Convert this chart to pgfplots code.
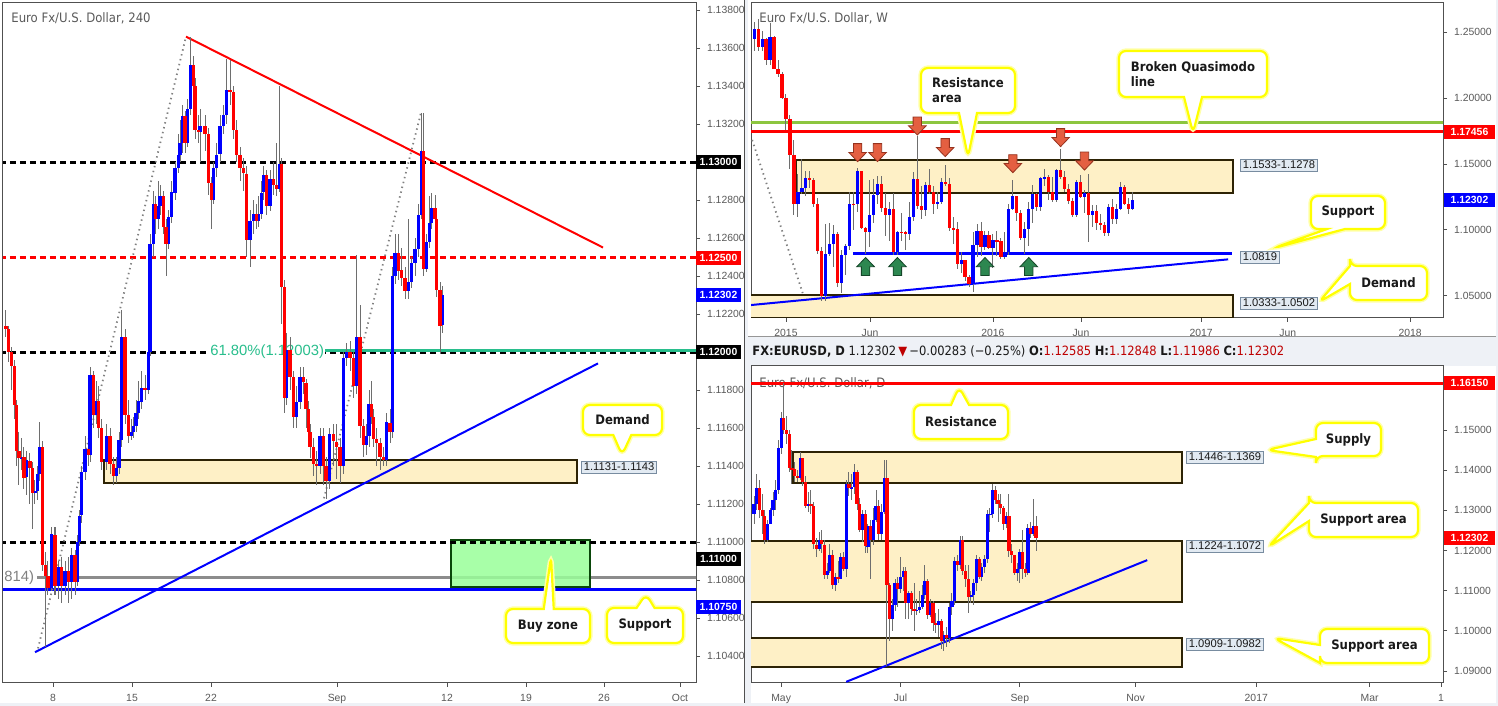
\documentclass[border=0pt]{standalone}
\usepackage{pgfplots}
\pgfplotsset{compat=1.18}
\usepackage{pgfplotstable}
\usetikzlibrary{shapes.callouts}
\usepackage{fontspec}
\setmainfont{Liberation Sans}
\newfontfamily\cond{DejaVu Sans Condensed}

\definecolor{upc}{RGB}{0,0,255}
\definecolor{dnc}{RGB}{255,0,0}
\definecolor{wickc}{RGB}{110,110,110}
\definecolor{axc}{RGB}{80,80,80}
\definecolor{lblc}{RGB}{90,90,90}
\definecolor{bgc}{RGB}{238,241,246}
\definecolor{zonef}{RGB}{254,240,198}
\definecolor{zoned}{RGB}{45,35,5}
\definecolor{tagf}{RGB}{226,234,242}
\definecolor{tagd}{RGB}{120,140,160}
\definecolor{buyf}{RGB}{153,255,153}
\definecolor{buyd}{RGB}{10,70,10}
\definecolor{fibc}{RGB}{40,190,140}
\definecolor{qmgreen}{RGB}{140,198,63}
\definecolor{arrr}{RGB}{228,95,65}
\definecolor{arrrd}{RGB}{150,50,30}
\definecolor{arrg}{RGB}{45,135,80}
\definecolor{arrgd}{RGB}{20,70,40}
\definecolor{callc}{RGB}{255,255,0}
\definecolor{glowc}{RGB}{255,255,170}
\definecolor{valred}{RGB}{190,0,0}
\definecolor{txt}{RGB}{25,25,25}

\newcommand\ticks{\fontsize{5.2}{6}\selectfont}
\newcommand\cfont{\cond\bfseries\fontsize{6.5}{7.6}\selectfont}

% arrow marks, tip at the data point
\pgfdeclareplotmark{dnarrow}{%
  \pgfpathmoveto{\pgfpoint{0pt}{0pt}}%
  \pgfpathlineto{\pgfpoint{4.4pt}{4.6pt}}%
  \pgfpathlineto{\pgfpoint{2.1pt}{4.6pt}}%
  \pgfpathlineto{\pgfpoint{2.1pt}{9pt}}%
  \pgfpathlineto{\pgfpoint{-2.1pt}{9pt}}%
  \pgfpathlineto{\pgfpoint{-2.1pt}{4.6pt}}%
  \pgfpathlineto{\pgfpoint{-4.4pt}{4.6pt}}%
  \pgfpathclose\pgfusepathqfillstroke}
\pgfdeclareplotmark{uparrow}{%
  \pgfpathmoveto{\pgfpoint{0pt}{0pt}}%
  \pgfpathlineto{\pgfpoint{4.4pt}{-4.6pt}}%
  \pgfpathlineto{\pgfpoint{2.1pt}{-4.6pt}}%
  \pgfpathlineto{\pgfpoint{2.1pt}{-9pt}}%
  \pgfpathlineto{\pgfpoint{-2.1pt}{-9pt}}%
  \pgfpathlineto{\pgfpoint{-2.1pt}{-4.6pt}}%
  \pgfpathlineto{\pgfpoint{-4.4pt}{-4.6pt}}%
  \pgfpathclose\pgfusepathqfillstroke}

\pgfplotsset{
  base/.style={anchor=south west, scale only axis, clip=true,
    axis line style={draw=axc, line width=0.5pt},
    tick align=outside, xtick pos=bottom, ytick pos=right, yticklabel pos=right,
    major tick length=2pt, tick style={draw=axc, line width=0.4pt},
    ticklabel style={font=\ticks, text=lblc},
    scaled y ticks=false, /pgf/number format/assume math mode=true,
    yticklabel style={/pgf/number format/fixed, /pgf/number format/fixed zerofill,
      /pgf/number format/precision=5}},
  wick/.style={draw=none, mark=none, forget plot, error bars/.cd, y dir=both, y explicit,
    error mark=none, error bar style={draw=wickc, line width=0.5pt}},
  body/.style n args={3}{draw=none, mark=none, forget plot,
    restrict expr to domain={\thisrow{c}-\thisrow{o}}{#1},
    error bars/.cd, y dir=both, y explicit, error mark=none,
    error bar style={draw=#2, line width=#3}},
}
\tikzset{
  zone/.style={fill=zonef, draw=zoned, line width=1pt},
  hdash/.style={line width=1.5pt, dash pattern=on 3pt off 2pt},
  call/.style={rectangle callout, fill=white, draw=callc, line width=1.1pt,
    rounded corners=3.5pt, preaction={draw=glowc, line width=2.6pt},
    font=\cfont, text=txt, inner sep=0pt, callout pointer width=9pt, align=left},
  pbox/.style={font=\ticks\bfseries, text=white, minimum height=7pt, inner sep=0pt},
  tag/.style={fill=tagf, draw=tagd, line width=0.4pt, font=\fontsize{5.6}{6}\selectfont,
    text=txt, inner xsep=1.2pt, inner ysep=1pt},
}

% 4H candles: x in pixels of the panel, open high low close
\pgfplotstableread{
x o h l c
6 1.1214 1.1222 1.1208 1.1212
8.3 1.1212 1.1214 1.1195 1.1200
11.7 1.1200 1.1203 1.1180 1.1193
14.3 1.1193 1.1196 1.1165 1.1172
16.7 1.1172 1.1175 1.1140 1.1148
19 1.1148 1.1158 1.1130 1.1144
21.7 1.1144 1.1155 1.1138 1.1145
24 1.1145 1.1150 1.1128 1.1134
26.7 1.1134 1.1148 1.1125 1.1143
30 1.1143 1.1147 1.1120 1.1139
32.3 1.1139 1.1142 1.1107 1.1126
35 1.1126 1.1133 1.1120 1.1127
37.7 1.1127 1.1140 1.1122 1.1136
40 1.1136 1.1163 1.1132 1.1150
42.7 1.1150 1.1153 1.1085 1.1088
45.3 1.1088 1.1095 1.1045 1.1082
48 1.1082 1.1090 1.1072 1.1076
51.7 1.1076 1.1108 1.1074 1.1104
55 1.1104 1.1108 1.1072 1.1077
58.3 1.1077 1.1090 1.1070 1.1087
61.7 1.1087 1.1092 1.1068 1.1077
65 1.1077 1.1090 1.1072 1.1085
68.3 1.1085 1.1092 1.1068 1.1079
71.7 1.1079 1.1097 1.1070 1.1093
75 1.1093 1.1096 1.1072 1.1079
77.3 1.1079 1.1104 1.1077 1.1100
79.3 1.1100 1.1117 1.1098 1.1114
81.7 1.1114 1.1140 1.1110 1.1137
85 1.1137 1.1156 1.1133 1.1149
88.3 1.1149 1.1152 1.1140 1.1146
90 1.1146 1.1192 1.1142 1.1188
93.3 1.1188 1.1190 1.1160 1.1167
96.7 1.1167 1.1185 1.1162 1.1174
98.3 1.1174 1.1182 1.1155 1.1160
101.7 1.1160 1.1165 1.1138 1.1142
106.7 1.1142 1.1162 1.1138 1.1156
110 1.1156 1.1160 1.1136 1.1141
113.3 1.1141 1.1145 1.1130 1.1135
116.7 1.1135 1.1145 1.1131 1.1139
119 1.1139 1.1158 1.1136 1.1154
121.7 1.1154 1.1222 1.1150 1.1208
125 1.1208 1.1212 1.1162 1.1167
128.3 1.1167 1.1175 1.1152 1.1156
131.7 1.1156 1.1165 1.1154 1.1158
133.3 1.1158 1.1166 1.1155 1.1161
136 1.1161 1.1175 1.1158 1.1168
138.3 1.1168 1.1185 1.1165 1.1174
141.7 1.1174 1.1190 1.1170 1.1181
145 1.1181 1.1188 1.1175 1.1180
148.3 1.1180 1.1204 1.1178 1.1200
150 1.1200 1.1262 1.1198 1.1257
153.3 1.1257 1.1285 1.1250 1.1278
155.7 1.1278 1.1282 1.1262 1.1270
158.3 1.1270 1.1290 1.1265 1.1277
160 1.1277 1.1288 1.1272 1.1282
163.3 1.1282 1.1285 1.1262 1.1266
166 1.1266 1.1270 1.1240 1.1257
168.3 1.1257 1.1275 1.1254 1.1271
171.7 1.1271 1.1290 1.1268 1.1284
175 1.1284 1.1300 1.1280 1.1297
178.3 1.1297 1.1315 1.1294 1.1304
180 1.1304 1.1322 1.1300 1.1310
182.7 1.1310 1.1330 1.1305 1.1324
185 1.1324 1.1327 1.1305 1.1310
187.3 1.1310 1.1333 1.1308 1.1328
190.7 1.1328 1.1366 1.1325 1.1351
193.3 1.1351 1.1356 1.1330 1.1340
195 1.1340 1.1344 1.1312 1.1317
198.3 1.1317 1.1325 1.1310 1.1316
200 1.1316 1.1328 1.1300 1.1319
205 1.1319 1.1325 1.1306 1.1315
208.3 1.1315 1.1318 1.1283 1.1289
211.7 1.1289 1.1292 1.1265 1.1280
213.3 1.1280 1.1300 1.1278 1.1297
216.7 1.1297 1.1310 1.1292 1.1304
220 1.1304 1.1325 1.1300 1.1319
223.3 1.1319 1.1330 1.1315 1.1325
226.7 1.1325 1.1354 1.1320 1.1338
230 1.1338 1.1354 1.1330 1.1337
233.3 1.1337 1.1340 1.1312 1.1317
236.7 1.1317 1.1322 1.1300 1.1304
240 1.1304 1.1308 1.1290 1.1297
243.3 1.1297 1.1302 1.1285 1.1294
246.7 1.1294 1.1298 1.1250 1.1259
250 1.1259 1.1275 1.1245 1.1269
253.3 1.1269 1.1280 1.1262 1.1273
256.7 1.1273 1.1278 1.1265 1.1269
258.3 1.1269 1.1282 1.1266 1.1273
261.7 1.1273 1.1290 1.1270 1.1284
263.3 1.1284 1.1298 1.1280 1.1293
266.7 1.1293 1.1296 1.1272 1.1277
270 1.1277 1.1296 1.1274 1.1291
273.3 1.1291 1.1300 1.1283 1.1288
276.7 1.1288 1.1310 1.1282 1.1286
279.3 1.1286 1.1340 1.1284 1.1299
281.7 1.1299 1.1302 1.1215 1.1234
284.3 1.1234 1.1238 1.1168 1.1176
286.7 1.1176 1.1210 1.1172 1.1201
290 1.1201 1.1208 1.1180 1.1187
293.3 1.1187 1.1190 1.1160 1.1166
296.7 1.1166 1.1182 1.1160 1.1174
300 1.1174 1.1192 1.1170 1.1187
303.3 1.1187 1.1192 1.1178 1.1184
306 1.1184 1.1186 1.1160 1.1170
308.3 1.1170 1.1174 1.1150 1.1158
310 1.1158 1.1162 1.1144 1.1150
313.3 1.1150 1.1155 1.1135 1.1141
316.7 1.1141 1.1148 1.1130 1.1140
320 1.1140 1.1160 1.1136 1.1156
323.3 1.1156 1.1160 1.1130 1.1140
326 1.1140 1.1145 1.1123 1.1132
329.3 1.1132 1.1160 1.1128 1.1157
333.3 1.1157 1.1162 1.1140 1.1153
336.7 1.1153 1.1162 1.1133 1.1150
340 1.1150 1.1155 1.1131 1.1140
343.3 1.1140 1.1200 1.1136 1.1197
346.7 1.1197 1.1205 1.1193 1.1200
350 1.1200 1.1206 1.1190 1.1197
353.3 1.1197 1.1200 1.1176 1.1182
356.7 1.1182 1.1251 1.1178 1.1208
360 1.1208 1.1225 1.1155 1.1161
363.3 1.1161 1.1165 1.1145 1.1151
366.7 1.1151 1.1162 1.1146 1.1156
369 1.1156 1.1180 1.1150 1.1173
371.7 1.1173 1.1185 1.1162 1.1166
373.3 1.1166 1.1170 1.1150 1.1154
376.7 1.1154 1.1160 1.1140 1.1152
380 1.1152 1.1155 1.1138 1.1145
383.3 1.1145 1.1150 1.1140 1.1143
386.7 1.1143 1.1168 1.1140 1.1163
390 1.1163 1.1170 1.1152 1.1158
392.7 1.1158 1.1245 1.1155 1.1240
395 1.1240 1.1262 1.1236 1.1252
398.3 1.1252 1.1262 1.1238 1.1243
401.7 1.1243 1.1255 1.1235 1.1239
405 1.1239 1.1245 1.1228 1.1232
408.3 1.1232 1.1270 1.1228 1.1237
411.7 1.1237 1.1250 1.1234 1.1247
415 1.1247 1.1260 1.1240 1.1254
418.3 1.1254 1.1278 1.1250 1.1272
421.7 1.1272 1.1326 1.1270 1.1306
423.3 1.1306 1.1326 1.1240 1.1244
426.7 1.1244 1.1262 1.1242 1.1258
429.3 1.1258 1.1282 1.1255 1.1268
431.7 1.1268 1.1284 1.1265 1.1276
435 1.1276 1.1283 1.1266 1.1270
436.7 1.1270 1.1273 1.1229 1.1233
440 1.1233 1.1237 1.1199 1.1214
442.7 1.1214 1.1235 1.1210 1.1230
}\hfour

% weekly candles: x = weeks from 5 Jan 2015
\pgfplotstableread{
x o h l c
-8 1.2450 1.2580 1.2360 1.2525
-7 1.2525 1.2600 1.2360 1.2390
-6 1.2390 1.2510 1.2360 1.2450
-5 1.2450 1.2460 1.2250 1.2290
-4 1.2290 1.2570 1.2250 1.2465
-3 1.2465 1.2475 1.2220 1.2225
-2 1.2225 1.2290 1.2160 1.2185
-1 1.2185 1.2200 1.1995 1.2000
0 1.2000 1.2030 1.1755 1.1840
1 1.1840 1.1870 1.1460 1.1565
2 1.1565 1.1680 1.1115 1.1200
3 1.1200 1.1425 1.1100 1.1290
4 1.1290 1.1535 1.1270 1.1315
5 1.1315 1.1450 1.1260 1.1390
6 1.1390 1.1450 1.1315 1.1380
7 1.1380 1.1390 1.1175 1.1195
8 1.1195 1.1245 1.0820 1.0840
9 1.0840 1.0870 1.0460 1.0495
10 1.0495 1.1045 1.0460 1.0820
11 1.0820 1.1050 1.0800 1.0890
12 1.0890 1.1035 1.0715 1.0970
13 1.0970 1.0985 1.0565 1.0600
14 1.0600 1.0850 1.0520 1.0810
15 1.0810 1.0890 1.0660 1.0875
16 1.0875 1.1290 1.0850 1.1200
17 1.1200 1.1290 1.1000 1.1198
18 1.1198 1.1467 1.1135 1.1445
19 1.1445 1.1445 1.1010 1.1015
20 1.1015 1.1025 1.0820 1.0985
21 1.0985 1.1380 1.0870 1.1110
22 1.1110 1.1385 1.1050 1.1265
23 1.1265 1.1410 1.1200 1.1350
24 1.1350 1.1410 1.1135 1.1165
25 1.1165 1.1280 1.0955 1.1110
26 1.1110 1.1215 1.0915 1.1160
27 1.1160 1.1280 1.0810 1.0830
28 1.0830 1.0990 1.0810 1.0985
29 1.0985 1.1130 1.0915 1.0982
30 1.0982 1.0990 1.0850 1.0965
31 1.0965 1.1215 1.0925 1.1100
32 1.1100 1.1440 1.1070 1.1385
33 1.1385 1.1714 1.1155 1.1180
34 1.1180 1.1330 1.1085 1.1150
35 1.1150 1.1360 1.1105 1.1340
36 1.1340 1.1460 1.1275 1.1290
37 1.1290 1.1330 1.1120 1.1200
38 1.1200 1.1285 1.1160 1.1210
39 1.1210 1.1390 1.1200 1.1360
40 1.1360 1.1495 1.1330 1.1350
41 1.1350 1.1390 1.0995 1.1015
42 1.1015 1.1095 1.0895 1.1005
43 1.1005 1.1060 1.0705 1.0740
44 1.0740 1.0830 1.0675 1.0770
45 1.0770 1.0770 1.0615 1.0645
46 1.0645 1.0655 1.0565 1.0590
47 1.0590 1.0985 1.0525 1.0885
48 1.0885 1.1045 1.0795 1.0990
49 1.0990 1.1060 1.0805 1.0870
50 1.0870 1.0990 1.0850 1.0960
51 1.0960 1.0995 1.0855 1.0860
52 1.0860 1.0970 1.0710 1.0920
53 1.0920 1.0990 1.0805 1.0915
54 1.0915 1.0935 1.0775 1.0795
55 1.0795 1.0985 1.0780 1.0830
56 1.0830 1.1200 1.0810 1.1155
57 1.1155 1.1375 1.1150 1.1255
58 1.1255 1.1255 1.1065 1.1130
59 1.1130 1.1150 1.0925 1.0935
60 1.0935 1.1060 1.0820 1.1005
61 1.1005 1.1215 1.0875 1.1155
62 1.1155 1.1340 1.1055 1.1270
63 1.1270 1.1280 1.1145 1.1170
64 1.1170 1.1400 1.1145 1.1390
65 1.1390 1.1465 1.1330 1.1400
66 1.1400 1.1415 1.1230 1.1285
67 1.1285 1.1400 1.1215 1.1225
68 1.1225 1.1465 1.1215 1.1455
69 1.1455 1.1616 1.1385 1.1405
70 1.1405 1.1445 1.1290 1.1310
71 1.1310 1.1350 1.1200 1.1220
72 1.1220 1.1245 1.1095 1.1115
73 1.1115 1.1375 1.1100 1.1365
74 1.1365 1.1415 1.1240 1.1250
75 1.1250 1.1300 1.1130 1.1280
76 1.1280 1.1425 1.0910 1.1115
77 1.1115 1.1185 1.1020 1.1140
78 1.1140 1.1185 1.1000 1.1050
79 1.1050 1.1120 1.1000 1.1040
80 1.1040 1.1060 1.0955 1.0975
81 1.0975 1.1200 1.0950 1.1175
82 1.1175 1.1235 1.1045 1.1085
83 1.1085 1.1200 1.1045 1.1160
84 1.1160 1.1365 1.1150 1.1325
85 1.1325 1.1340 1.1190 1.1200
86 1.1200 1.1240 1.1120 1.1155
87 1.1155 1.1285 1.1150 1.1230
}\weekly

% daily candles: x = trading days from 18 Apr 2016
\pgfplotstableread{
x o h l c
0 1.1290 1.1335 1.1265 1.1315
1 1.1315 1.1390 1.1300 1.1355
2 1.1355 1.1375 1.1280 1.1300
3 1.1300 1.1340 1.1240 1.1285
4 1.1285 1.1300 1.1215 1.1225
5 1.1225 1.1275 1.1220 1.1265
6 1.1265 1.1305 1.1265 1.1300
7 1.1300 1.1345 1.1285 1.1325
8 1.1325 1.1375 1.1300 1.1350
9 1.1350 1.1475 1.1340 1.1455
10 1.1455 1.1545 1.1440 1.1530
11 1.1530 1.1616 1.1490 1.1500
12 1.1500 1.1535 1.1465 1.1490
13 1.1490 1.1500 1.1395 1.1405
14 1.1405 1.1450 1.1365 1.1402
15 1.1402 1.1420 1.1370 1.1385
16 1.1385 1.1400 1.1370 1.1380
17 1.1380 1.1445 1.1375 1.1430
18 1.1430 1.1430 1.1360 1.1370
19 1.1370 1.1385 1.1305 1.1310
20 1.1310 1.1345 1.1295 1.1315
21 1.1315 1.1350 1.1290 1.1312
22 1.1312 1.1320 1.1205 1.1215
23 1.1215 1.1230 1.1185 1.1205
24 1.1205 1.1245 1.1200 1.1225
25 1.1225 1.1250 1.1195 1.1215
26 1.1215 1.1225 1.1130 1.1140
27 1.1140 1.1170 1.1130 1.1150
28 1.1150 1.1215 1.1145 1.1190
29 1.1190 1.1200 1.1105 1.1115
30 1.1115 1.1145 1.1100 1.1135
31 1.1135 1.1175 1.1120 1.1130
32 1.1130 1.1195 1.1130 1.1185
33 1.1185 1.1195 1.1150 1.1155
34 1.1155 1.1375 1.1135 1.1365
35 1.1365 1.1395 1.1335 1.1355
36 1.1355 1.1390 1.1325 1.1357
37 1.1357 1.1415 1.1340 1.1395
38 1.1395 1.1400 1.1300 1.1315
39 1.1315 1.1330 1.1245 1.1250
40 1.1250 1.1300 1.1220 1.1290
41 1.1290 1.1300 1.1195 1.1210
42 1.1210 1.1265 1.1195 1.1260
43 1.1260 1.1275 1.1130 1.1225
44 1.1225 1.1305 1.1215 1.1275
45 1.1275 1.1350 1.1270 1.1310
46 1.1310 1.1325 1.1225 1.1240
47 1.1240 1.1315 1.1225 1.1295
48 1.1295 1.1425 1.1290 1.1380
49 1.1380 1.1425 1.0912 1.1115
50 1.1115 1.1120 1.0975 1.1030
51 1.1030 1.1080 1.1000 1.1065
52 1.1065 1.1130 1.1050 1.1120
53 1.1120 1.1135 1.1060 1.1105
54 1.1105 1.1185 1.1095 1.1135
55 1.1135 1.1160 1.1100 1.1150
56 1.1150 1.1160 1.1030 1.1070
57 1.1070 1.1100 1.1030 1.1095
58 1.1095 1.1100 1.1040 1.1055
59 1.1055 1.1120 1.1000 1.1050
60 1.1050 1.1080 1.1040 1.1052
61 1.1052 1.1100 1.1045 1.1060
62 1.1060 1.1115 1.1055 1.1090
63 1.1090 1.1165 1.1080 1.1125
64 1.1125 1.1130 1.1030 1.1040
65 1.1040 1.1080 1.1035 1.1070
66 1.1070 1.1075 1.1000 1.1020
67 1.1020 1.1045 1.0995 1.1015
68 1.1015 1.1055 1.0985 1.1025
69 1.1025 1.1030 1.0955 1.0975
70 1.0975 1.1000 1.0950 1.0990
71 1.0990 1.1010 1.0960 1.0982
72 1.0982 1.1070 1.0970 1.1060
73 1.1060 1.1095 1.1040 1.1075
74 1.1075 1.1185 1.1065 1.1175
75 1.1175 1.1190 1.1150 1.1165
76 1.1165 1.1235 1.1155 1.1225
77 1.1225 1.1235 1.1140 1.1150
78 1.1150 1.1165 1.1110 1.1130
79 1.1130 1.1165 1.1045 1.1085
80 1.1085 1.1100 1.1070 1.1090
81 1.1090 1.1130 1.1065 1.1120
82 1.1120 1.1190 1.1100 1.1180
83 1.1180 1.1185 1.1130 1.1135
84 1.1135 1.1170 1.1125 1.1160
85 1.1160 1.1190 1.1145 1.1180
86 1.1180 1.1300 1.1170 1.1290
87 1.1290 1.1305 1.1245 1.1292
88 1.1292 1.1366 1.1280 1.1350
89 1.1350 1.1360 1.1315 1.1325
90 1.1325 1.1340 1.1270 1.1315
91 1.1315 1.1340 1.1290 1.1305
92 1.1305 1.1310 1.1250 1.1265
93 1.1265 1.1295 1.1255 1.1285
94 1.1285 1.1340 1.1185 1.1200
95 1.1200 1.1215 1.1170 1.1190
96 1.1190 1.1190 1.1140 1.1145
97 1.1145 1.1170 1.1125 1.1155
98 1.1155 1.1205 1.1120 1.1195
99 1.1195 1.1250 1.1130 1.1155
100 1.1155 1.1170 1.1135 1.1145
101 1.1145 1.1265 1.1140 1.1255
102 1.1255 1.1270 1.1230 1.1240
103 1.1240 1.1327 1.1235 1.1260
104 1.1260 1.1285 1.1199 1.1230
}\daily

\begin{document}
\begin{tikzpicture}
\useasboundingbox (0,0) rectangle (749pt,353pt);
% backgrounds and titles, in pixel coordinates of the reference
\begin{scope}[x=0.5pt,y=-0.5pt,shift={(0pt,353pt)}]
  \fill[bgc] (0,0) rectangle (1498,706);
  \fill[white] (0,0) rectangle (744,703);
  \fill[white] (748,0) rectangle (1496,337);
  \fill[white] (751,366) rectangle (1496,703);
  \draw[axc, line width=0.5pt] (744.5,0) -- (744.5,703);
  \draw[axc!60, line width=0.5pt] (748,337) -- (1496,337);
  \node[anchor=west, font=\cond\fontsize{6.5}{7}\selectfont, text=lblc, inner sep=0pt] at (11,18) {Euro Fx/U.S. Dollar, 240};
  \node[anchor=west, font=\cond\fontsize{6.5}{7}\selectfont, text=lblc, inner sep=0pt] at (759,18) {Euro Fx/U.S. Dollar, W};
  \node[anchor=west, font=\cond\fontsize{6.5}{7}\selectfont, text=lblc, inner sep=0pt] at (759,383) {Euro Fx/U.S. Dollar, D};
  \node[anchor=west, font=\cond\fontsize{6.4}{7}\selectfont, text=txt, inner sep=0pt] at (752,352)
    {\textbf{FX:EURUSD, D}\ 1.12302\,{\color{valred}▼}\,−0.00283 (−0.25\%)\ \textbf{O:}{\color{valred}1.12585}\ \textbf{H:}{\color{valred}1.12848}\ \textbf{L:}{\color{valred}1.11986}\ \textbf{C:}{\color{valred}1.12302}};
\end{scope}

% ---------- 4H panel ----------
\begin{axis}[base, at={(1.5pt,11.5pt)}, width=346.5pt, height=340pt,
  xmin=3, xmax=696, ymin=1.10258, ymax=1.13837,
  xtick={53,132,211,337,447,526,604,680}, xticklabels={8,15,22,Sep,12,19,26,Oct},
  ytick={1.104,1.106,1.108,1.11,1.112,1.114,1.116,1.118,1.122,1.124,1.126,1.128,1.132,1.134,1.136,1.138}]
  \draw[zone] (axis cs:104,1.1131) rectangle (axis cs:577,1.1143);
  \draw[gray!90, line width=1.4pt] (axis cs:37,1.10814) -- (axis cs:700,1.10814);
  \draw[upc, line width=1.4pt] (axis cs:0,1.1075) -- (axis cs:700,1.1075);
  \draw[fill=buyf, draw=buyd, line width=1pt, fill opacity=0.85] (axis cs:451,1.10765) rectangle (axis cs:590,1.1101);
  \draw[black, hdash] (axis cs:0,1.13) -- (axis cs:700,1.13);
  \draw[black, hdash] (axis cs:0,1.12) -- (axis cs:700,1.12);
  \draw[black, hdash] (axis cs:0,1.11) -- (axis cs:700,1.11);
  \draw[dnc, hdash] (axis cs:0,1.125) -- (axis cs:700,1.125);
  \draw[fibc, line width=1.4pt] (axis cs:323,1.12008) -- (axis cs:700,1.12008);
  \node[anchor=west, fill=white, inner sep=0.5pt, text=fibc, font=\fontsize{7.4}{8}\selectfont] at (axis cs:209,1.12) {61.80\%(1.12003)};
  \node[anchor=west, inner sep=0pt, text=gray, font=\fontsize{7.4}{8}\selectfont] at (axis cs:4,1.10814) {814)};
  \draw[upc, line width=1pt] (axis cs:35,1.1042) -- (axis cs:598,1.1194);
  \draw[dnc, line width=1pt] (axis cs:186,1.1366) -- (axis cs:603,1.1255);
  \draw[gray, line width=0.9pt, dash pattern=on 0.7pt off 1.8pt] (axis cs:38,1.1044) -- (axis cs:186,1.1366);
  \draw[gray, line width=0.9pt, dash pattern=on 0.7pt off 1.8pt] (axis cs:324,1.1123) -- (axis cs:421,1.1326);
  \addplot[wick] table[x=x, y expr={(\thisrow{h}+\thisrow{l})/2}, y error expr={(\thisrow{h}-\thisrow{l})/2}] {\hfour};
  \addplot[body={0:1}{upc}{1.6pt}] table[x=x, y expr={(\thisrow{o}+\thisrow{c})/2}, y error expr={abs(\thisrow{c}-\thisrow{o})/2}] {\hfour};
  \addplot[body={-1:0}{dnc}{1.6pt}] table[x=x, y expr={(\thisrow{o}+\thisrow{c})/2}, y error expr={abs(\thisrow{c}-\thisrow{o})/2}] {\hfour};
\end{axis}

% ---------- weekly panel ----------
\begin{axis}[base, at={(375.5pt,194pt)}, width=346pt, height=157.5pt,
  xmin=-8.79, xmax=165.08, ymin=1.03307, ymax=1.27225,
  xtick={0,21.1,52,74.1,104.3,126.1,156.8}, xticklabels={2015,Jun,2016,Jun,2017,Jun,2018},
  ytick={1.05,1.10,1.15,1.20,1.25}]
  \draw[zone] (axis cs:2.4,1.1278) rectangle (axis cs:112.3,1.1533);
  \draw[zone] (axis cs:-12,1.0333) rectangle (axis cs:112.3,1.0502);
  \draw[qmgreen, line width=1.5pt] (axis cs:-10,1.1817) -- (axis cs:170,1.1817);
  \draw[dnc, line width=1.5pt] (axis cs:-10,1.17456) -- (axis cs:170,1.17456);
  \draw[upc, line width=1.3pt] (axis cs:16.8,1.0819) -- (axis cs:112,1.0819);
  \draw[upc, line width=1pt] (axis cs:-8.8,1.0429) -- (axis cs:111.1,1.0776);
  \draw[gray, line width=0.9pt, dash pattern=on 0.7pt off 1.8pt] (axis cs:-8.5,1.1682) -- (axis cs:4.2,1.0520);
  \addplot[wick] table[x=x, y expr={(\thisrow{h}+\thisrow{l})/2}, y error expr={(\thisrow{h}-\thisrow{l})/2}] {\weekly};
  \addplot[body={0:1}{upc}{1.6pt}] table[x=x, y expr={(\thisrow{o}+\thisrow{c})/2}, y error expr={abs(\thisrow{c}-\thisrow{o})/2}] {\weekly};
  \addplot[body={-1:0}{dnc}{1.6pt}] table[x=x, y expr={(\thisrow{o}+\thisrow{c})/2}, y error expr={abs(\thisrow{c}-\thisrow{o})/2}] {\weekly};
  \addplot[only marks, mark=dnarrow, mark options={fill=arrr, draw=arrrd, line width=0.4pt}]
    coordinates {(18,1.1518) (23,1.1518) (33,1.1720) (40,1.1556) (57,1.1434) (69,1.1632) (75,1.1454)};
  \addplot[only marks, mark=uparrow, mark options={fill=arrg, draw=arrgd, line width=0.4pt}]
    coordinates {(20,1.0790) (28,1.0790) (50,1.0790) (61,1.0790)};
\end{axis}

% ---------- daily panel ----------
\begin{axis}[base, at={(375.5pt,11.5pt)}, width=346pt, height=158.5pt,
  xmin=-1.11, xmax=254.07, ymin=1.08701, ymax=1.16593,
  xtick={10,54,98,140.7,185.2,227,253.3}, xticklabels={May,Jul,Sep,Nov,2017,Mar,1},
  ytick={1.09,1.10,1.11,1.12,1.13,1.14,1.15}]
  \draw[zone] (axis cs:14.4,1.1369) rectangle (axis cs:157.8,1.1446);
  \draw[zone] (axis cs:-5,1.1072) rectangle (axis cs:157.8,1.1224);
  \draw[zone] (axis cs:-5,1.0909) rectangle (axis cs:157.8,1.0982);
  \draw[dnc, line width=1.5pt] (axis cs:-3,1.1615) -- (axis cs:260,1.1615);
  \draw[upc, line width=1pt] (axis cs:34,1.0873) -- (axis cs:145,1.1176);
  \addplot[wick] table[x=x, y expr={(\thisrow{h}+\thisrow{l})/2}, y error expr={(\thisrow{h}-\thisrow{l})/2}] {\daily};
  \addplot[body={0:1}{upc}{1.6pt}] table[x=x, y expr={(\thisrow{o}+\thisrow{c})/2}, y error expr={abs(\thisrow{c}-\thisrow{o})/2}] {\daily};
  \addplot[body={-1:0}{dnc}{1.6pt}] table[x=x, y expr={(\thisrow{o}+\thisrow{c})/2}, y error expr={abs(\thisrow{c}-\thisrow{o})/2}] {\daily};
\end{axis}

% labels and callouts, in pixel coordinates of the reference
\begin{scope}[x=0.5pt,y=-0.5pt,shift={(0pt,353pt)}]
  % price tags on the right
  \node[pbox, fill=black, minimum width=22.5pt] at (718.5,162) {1.13000};
  \node[pbox, fill=dnc, minimum width=22.5pt] at (718.5,258) {1.12500};
  \node[pbox, fill=upc, minimum width=22.5pt] at (718.5,295) {1.12302};
  \node[pbox, fill=black, minimum width=22.5pt] at (718.5,352) {1.12000};
  \node[pbox, fill=black, minimum width=22.5pt] at (718.5,559) {1.11000};
  \node[pbox, fill=upc, minimum width=22.5pt] at (718.5,607) {1.10750};
  \node[pbox, fill=dnc, minimum width=25.5pt] at (1469.5,132) {1.17456};
  \node[pbox, fill=upc, minimum width=25.5pt] at (1469.5,200) {1.12302};
  \node[pbox, fill=dnc, minimum width=25.5pt] at (1469.5,383) {1.16150};
  \node[pbox, fill=dnc, minimum width=25.5pt] at (1469.5,538) {1.12302};
  % zone tags
  \node[tag, anchor=west] at (581,467) {1.1131-1.1143};
  \node[tag, anchor=west] at (1240,165) {1.1533-1.1278};
  \node[tag, anchor=west] at (1240,257) {1.0819};
  \node[tag, anchor=west] at (1240,303) {1.0333-1.0502};
  \node[tag, anchor=west] at (1186,457) {1.1446-1.1369};
  \node[tag, anchor=west] at (1186,546) {1.1224-1.1072};
  \node[tag, anchor=west] at (1186,644) {1.0909-1.0982};
  % callouts
  \node[call, minimum width=39.5pt, minimum height=15pt, callout absolute pointer={(622,455)}] at (622.5,420) {Demand};
  \node[call, minimum width=42pt, minimum height=17pt, callout pointer width=5pt, callout absolute pointer={(551,557)}] at (548,626) {Buy zone};
  \node[call, minimum width=38pt, minimum height=17.5pt, callout absolute pointer={(646,594)}] at (645,625.5) {Support};
  \node[call, minimum width=47pt, minimum height=22.5pt, callout absolute pointer={(968,157)}] at (968,90.5) {Resistance\\area};
  \node[call, minimum width=74pt, minimum height=23pt, callout absolute pointer={(1193,133)}] at (1193,74) {Broken Quasimodo\\line};
  \node[call, minimum width=37pt, minimum height=16.5pt, callout absolute pointer={(1274,248)}] at (1348,212.5) {Support};
  \node[call, minimum width=38.5pt, minimum height=17pt, callout absolute pointer={(1319,302)}] at (1388.5,283) {Demand};
  \node[call, minimum width=47pt, minimum height=17pt, callout absolute pointer={(959,387)}] at (961,422) {Resistance};
  \node[call, minimum width=32.5pt, minimum height=16.5pt, callout absolute pointer={(1267,450)}] at (1348.5,439.5) {Supply};
  \node[call, minimum width=54.5pt, minimum height=17pt, callout absolute pointer={(1268,547)}] at (1363.5,520) {Support area};
  \node[call, minimum width=54.5pt, minimum height=17pt, callout absolute pointer={(1274,638)}] at (1374.5,646) {Support area};
\end{scope}
\end{tikzpicture}
\end{document}
